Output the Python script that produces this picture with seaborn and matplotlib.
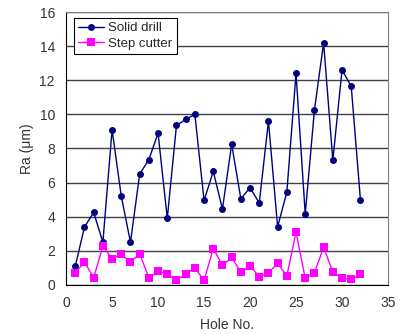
import pandas as pd
import matplotlib.pyplot as plt
import numpy as np
import seaborn as sns

# Hole numbers and surface roughness Ra (um)
holes = list(range(1, 33))
solid_drill = [1.1, 3.4, 4.25, 2.5, 9.1, 5.2, 2.5, 6.5, 7.35, 8.9,
               3.9, 9.35, 9.7, 10.0, 4.95, 6.65, 4.45, 8.25, 5.05, 5.7,
               4.8, 9.6, 3.4, 5.45, 12.4, 4.15, 10.25, 14.2, 7.3, 12.6,
               11.65, 5.0]
step_cutter = [0.72, 1.33, 0.43, 2.27, 1.54, 1.82, 1.33, 1.82, 0.43, 0.79,
               0.65, 0.26, 0.65, 1.0, 0.26, 2.13, 1.14, 1.61, 0.75, 1.1,
               0.49, 0.69, 1.28, 0.53, 3.09, 0.39, 0.72, 2.2, 0.75, 0.39,
               0.32, 0.63]

df = pd.DataFrame({
    "hole": holes * 2,
    "ra": solid_drill + step_cutter,
    "tool": ["Solid drill"] * len(holes) + ["Step cutter"] * len(holes),
})

sns.set_style("white")
plt.rcParams["font.family"] = ["Liberation Sans", "DejaVu Sans"]

fig = plt.figure(figsize=(4.08, 3.34), dpi=100)
ax = fig.add_axes([0.162, 0.147, 0.789, 0.817])

sns.lineplot(data=df, x="hole", y="ra", hue="tool", style="tool",
             palette={"Solid drill": "#000080", "Step cutter": "#FF00FF"},
             markers={"Solid drill": "o", "Step cutter": "s"},
             dashes=False, markersize=5, markeredgewidth=0, linewidth=1,
             ax=ax)

# squares are drawn a bit bigger than the circles
sizes = {"Solid drill": 5, "Step cutter": 6.2}
for line, name in zip(ax.lines[:2], ["Solid drill", "Step cutter"]):
    line.set_markersize(sizes[name])

ax.set_xlim(0, 35)
ax.set_ylim(0, 16)
ax.set_xticks(np.arange(0, 36, 5))
ax.set_yticks(np.arange(0, 17, 2))
ax.yaxis.grid(True, color="#404040", linewidth=1)
ax.set_axisbelow(True)
ax.tick_params(axis="x", direction="in", length=4, labelsize=10,
               labelcolor="#333333", color="black", pad=8)
ax.tick_params(axis="y", length=0, labelsize=10, labelcolor="#333333", pad=8)
for side in ["left", "bottom"]:
    ax.spines[side].set_color("black")
for side in ["top", "right"]:
    ax.spines[side].set_color("#808080")

ax.set_xlabel("Hole No.", fontsize=10, color="#333333", labelpad=6)
ax.set_ylabel("Ra (μm)", fontsize=10, color="#333333")

leg = ax.legend(title=None, loc="upper left", bbox_to_anchor=(0.025, 0.978),
                fontsize=9.5, frameon=True, fancybox=False, framealpha=1,
                edgecolor="black", borderpad=0.3, labelspacing=0.25,
                handlelength=2.0, handletextpad=0.3, borderaxespad=0)
leg.get_frame().set_linewidth(0.8)
for h, name in zip(leg.legend_handles, ["Solid drill", "Step cutter"]):
    h.set_markersize(sizes[name])

fig.savefig("out.png", dpi=100)
